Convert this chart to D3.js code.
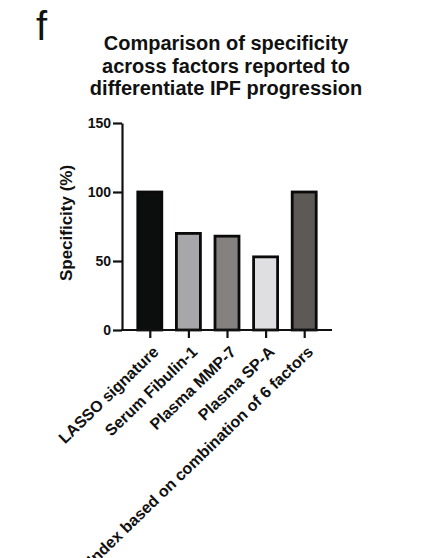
<!DOCTYPE html>
<html>
<head>
<meta charset="utf-8">
<script src="https://cdn.jsdelivr.net/npm/d3@7"></script>
<style>
  html, body { margin: 0; padding: 0; background: #fff; }
  svg { display: block; font-family: Arial, "Liberation Sans", sans-serif; }
</style>
</head>
<body>
<svg id="chart" width="446" height="558"></svg>
<script>
// Specificity (%) per factor
const categories = [
  "LASSO signature",
  "Serum Fibulin-1",
  "Plasma MMP-7",
  "Plasma SP-A",
  "Index based on combination of 6 factors"
];
const specificity = [100, 70, 68, 53, 100];
const barColors = ["#0c0e0d", "#a7a6a9", "#858180", "#dfdee0", "#5d5957"];
const yTicks = [0, 50, 100, 150];
const titleLines = [
  "Comparison of specificity",
  "across factors reported to",
  "differentiate IPF progression"
];

const svg = d3.select("#chart");

// panel letter
svg.append("text")
  .attr("x", 36).attr("y", 40)
  .attr("font-size", 40)
  .attr("fill", "#111")
  .text("f");

// title
svg.append("g")
  .selectAll("text")
  .data(titleLines)
  .join("text")
  .attr("x", 226)
  .attr("y", (d, i) => 50 + i * 22.5)
  .attr("text-anchor", "middle")
  .attr("font-weight", "bold")
  .attr("font-size", 20)
  .attr("fill", "#111")
  .text(d => d);

const plot = { left: 122, right: 332, top: 123, bottom: 330 };

const x = d3.scalePoint()
  .domain(categories)
  .range([plot.left, plot.right])
  .padding(0.72);

const y = d3.scaleLinear()
  .domain([0, 150])
  .range([plot.bottom, plot.top]);

const barW = 24;

// bars
svg.append("g")
  .selectAll("rect")
  .data(categories)
  .join("rect")
  .attr("x", d => x(d) - barW / 2)
  .attr("y", (d, i) => y(specificity[i]))
  .attr("width", barW)
  .attr("height", (d, i) => y(0) - y(specificity[i]))
  .attr("fill", (d, i) => barColors[i])
  .attr("stroke", "#0a0a0a")
  .attr("stroke-width", 2.8);

// y axis
const yAxis = svg.append("g")
  .attr("transform", `translate(${plot.left},0)`)
  .call(d3.axisLeft(y).tickValues(yTicks).tickSize(9).tickPadding(2).tickSizeOuter(0));
yAxis.select(".domain").attr("stroke", "#111").attr("stroke-width", 2.2);
yAxis.selectAll(".tick line").attr("stroke", "#111").attr("stroke-width", 2.2);
yAxis.selectAll(".tick text")
  .attr("font-size", 14).attr("font-weight", "bold")
  .attr("font-family", "Arial, 'Liberation Sans', sans-serif")
  .attr("fill", "#111");

// x axis
const xAxis = svg.append("g")
  .attr("transform", `translate(0,${plot.bottom})`)
  .call(d3.axisBottom(x).tickSize(8).tickSizeOuter(0).tickFormat(""));
xAxis.select(".domain")
  .attr("d", `M${plot.left - 1},0H${plot.right}`)
  .attr("stroke", "#111").attr("stroke-width", 2.2);
xAxis.selectAll(".tick line").attr("stroke", "#111").attr("stroke-width", 2.2);

// rotated category labels
svg.append("g")
  .selectAll("text")
  .data(categories)
  .join("text")
  .attr("transform", d => `translate(${x(d) + 6},${349}) rotate(-44)`)
  .attr("text-anchor", "end")
  .attr("dy", "0.35em")
  .attr("font-weight", "bold")
  .attr("font-size", 16)
  .attr("fill", "#111")
  .text(d => d);

// y axis label
svg.append("text")
  .attr("transform", `translate(72,223) rotate(-90)`)
  .attr("text-anchor", "middle")
  .attr("font-weight", "bold")
  .attr("font-size", 17)
  .attr("fill", "#111")
  .text("Specificity (%)");
</script>
</body>
</html>
